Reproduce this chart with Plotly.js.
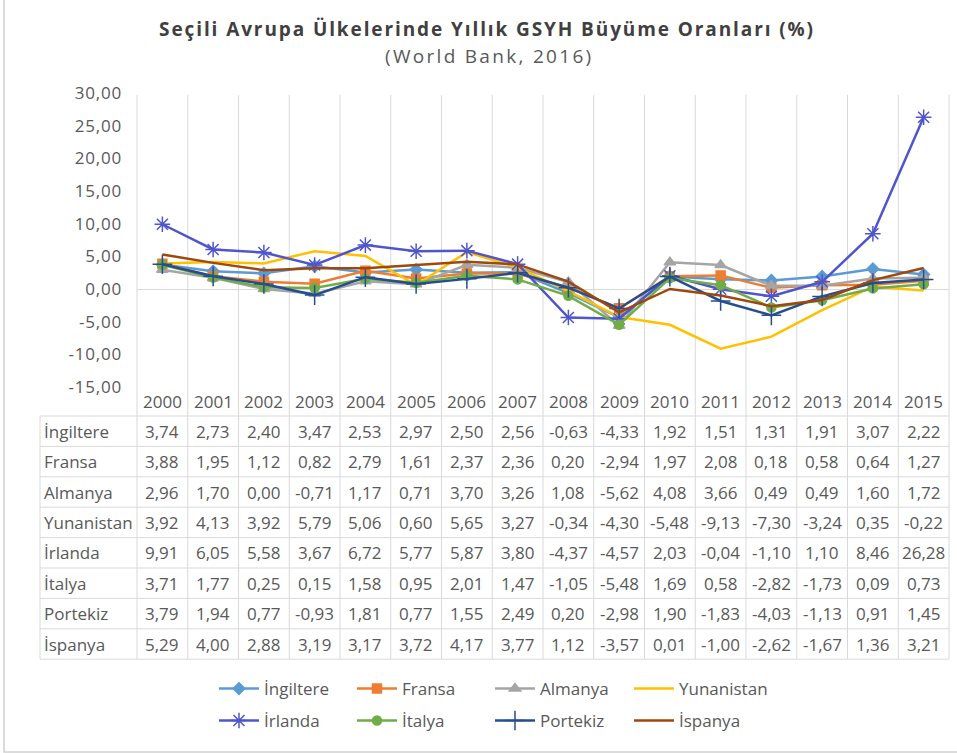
<!DOCTYPE html>
<html>
<head>
<meta charset="utf-8">
<script src="https://cdn.plot.ly/plotly-3.0.1.min.js"></script>
<style>html,body{margin:0;padding:0;background:#fff;}#chart{width:957px;height:753px;}</style>
</head>
<body>
<div id="chart"></div>
<script>
// ---- data ----
const years = ['2000','2001','2002','2003','2004','2005','2006','2007','2008','2009','2010','2011','2012','2013','2014','2015'];
const countries = ['İngiltere','Fransa','Almanya','Yunanistan','İrlanda','İtalya','Portekiz','İspanya'];
const ingiltere  = [3.74,2.73,2.40,3.47,2.53,2.97,2.50,2.56,-0.63,-4.33,1.92,1.51,1.31,1.91,3.07,2.22];
const fransa     = [3.88,1.95,1.12,0.82,2.79,1.61,2.37,2.36,0.20,-2.94,1.97,2.08,0.18,0.58,0.64,1.27];
const almanya    = [2.96,1.70,0.00,-0.71,1.17,0.71,3.70,3.26,1.08,-5.62,4.08,3.66,0.49,0.49,1.60,1.72];
const yunanistan = [3.92,4.13,3.92,5.79,5.06,0.60,5.65,3.27,-0.34,-4.30,-5.48,-9.13,-7.30,-3.24,0.35,-0.22];
const irlanda    = [9.91,6.05,5.58,3.67,6.72,5.77,5.87,3.80,-4.37,-4.57,2.03,-0.04,-1.10,1.10,8.46,26.28];
const italya     = [3.71,1.77,0.25,0.15,1.58,0.95,2.01,1.47,-1.05,-5.48,1.69,0.58,-2.82,-1.73,0.09,0.73];
const portekiz   = [3.79,1.94,0.77,-0.93,1.81,0.77,1.55,2.49,0.20,-2.98,1.90,-1.83,-4.03,-1.13,0.91,1.45];
const ispanya    = [5.29,4.00,2.88,3.19,3.17,3.72,4.17,3.77,1.12,-3.57,0.01,-1.00,-2.62,-1.67,1.36,3.21];
const series = [ingiltere,fransa,almanya,yunanistan,irlanda,italya,portekiz,ispanya];
const yTicks = [-15,-10,-5,0,5,10,15,20,25,30];

// ---- styles ----
const colors  = ['#5B9BD5','#ED7D31','#A5A5A5','#FFC000','#4F56CC','#70AD47','#264E8F','#9E480E'];
const symbols = ['diamond','square','triangle-up',null,'asterisk-open','circle','cross-thin-open',null];
const msizes  = [9,9,10,0,13,9,14,0];
const FONT = 'Open Sans, Arial, sans-serif';
const TXT = '#595959';
const GRID = '#D9D9D9';

// layout geometry (pixels)
const W=957, H=753, L=137, R=949, T=93, B=387;
const colW = (R-L)/16;
const px2x = px => (px-L)/(R-L);
const py2y = py => (B-py)/(B-T);
const colX = i => px2x(L + (i+0.5)*colW);
const fmt = v => v.toFixed(2).replace('.', ',');

const legendText = [[265,689],[403,689],[541,689],[680,689],[265,721],[403,721],[541,721],[680,721]];

const traces = countries.map((c,i)=>{
  const t = {
    type:'scatter', x:years, y:series[i], name:c,
    mode: symbols[i] ? 'lines+markers' : 'lines',
    line:{color:colors[i], width:2.5},
    legend: i===0 ? 'legend' : 'legend'+(i+1),
    hoverinfo:'skip'
  };
  if (symbols[i]) t.marker = {symbol:symbols[i], size:msizes[i], color:colors[i], line:{color:colors[i], width:1.5}};
  return t;
});

const shapes = [];
const gl = {color:GRID, width:1};
// vertical grid / table column lines
for (let i=0;i<=years.length;i++){
  const xx = px2x(L + i*colW);
  shapes.push({type:'line', xref:'paper', yref:'paper', x0:xx, x1:xx, y0:py2y(95), y1:py2y(659), line:gl, layer:'below'});
}
// table horizontal lines
const rowH = 30.4, tableTop = 416;
for (let k=0;k<=countries.length;k++){
  const yy = py2y(tableTop + k*rowH);
  shapes.push({type:'line', xref:'paper', yref:'paper', x0:px2x(40), x1:1, y0:yy, y1:yy, line:gl});
}
// table left border
shapes.push({type:'line', xref:'paper', yref:'paper', x0:px2x(40), x1:px2x(40), y0:py2y(tableTop), y1:py2y(tableTop+countries.length*rowH), line:gl});
// outer chart frame
shapes.push({type:'rect', xref:'paper', yref:'paper', x0:px2x(4), x1:px2x(970), y0:py2y(752), y1:py2y(-20), line:{color:'#D0D0D0', width:1.5}, layer:'below'});

const annotations = [];
const tf = {family:FONT,size:17,color:TXT};
// header years
years.forEach((y,i)=>{
  annotations.push({xref:'paper', yref:'paper', x:colX(i), y:py2y(401), text:y, showarrow:false, font:tf, xanchor:'center', yanchor:'middle'});
});
// table rows
countries.forEach((c,k)=>{
  const yc = py2y(tableTop + k*rowH + rowH/2);
  annotations.push({xref:'paper', yref:'paper', x:px2x(42), y:yc, text:c, showarrow:false, font:tf, xanchor:'left', yanchor:'middle'});
  series[k].forEach((v,i)=>{
    annotations.push({xref:'paper', yref:'paper', x:colX(i), y:yc, text:fmt(v), showarrow:false, font:tf, xanchor:'center', yanchor:'middle'});
  });
});
// subtitle
annotations.push({xref:'paper', yref:'paper', x:px2x(489), y:py2y(56), text:'<span style="letter-spacing:2.3px">(World Bank, 2016)</span>', showarrow:false, font:{family:FONT,size:19,color:TXT}, xanchor:'center', yanchor:'middle'});

const layout = {
  width:W, height:H,
  margin:{l:L, r:W-R, t:T, b:H-B, pad:0},
  paper_bgcolor:'#fff', plot_bgcolor:'#fff',
  separators:', ',
  title:{text:'<span style="letter-spacing:1.9px"><b>Seçili Avrupa Ülkelerinde Yıllık GSYH Büyüme Oranları (%)</b></span>', x:487/W, xanchor:'center', y:(H-29)/H, yanchor:'middle', yref:'container', font:{family:FONT, size:19, color:'#404040'}},
  xaxis:{type:'category', range:[-0.5,15.5], showticklabels:false, showgrid:false, zeroline:false, showline:false, ticks:''},
  yaxis:{range:[-15,30], tickvals:yTicks, ticktext:yTicks.map(v=>'<span style="letter-spacing:0.8px">'+fmt(v)+'</span>'), showgrid:false, zeroline:true, zerolinecolor:GRID, zerolinewidth:1, showline:false, ticks:'', ticklabelstandoff:14, tickfont:{family:FONT,size:17,color:TXT}},
  shapes, annotations,
  showlegend:true
};
countries.forEach((c,i)=>{
  const key = i===0 ? 'legend' : 'legend'+(i+1);
  layout[key] = {x:px2x(legendText[i][0]-51), y:py2y(legendText[i][1]), xref:'paper', yref:'paper', xanchor:'left', yanchor:'middle', orientation:'h', bgcolor:'rgba(0,0,0,0)', borderwidth:0, font:{family:FONT,size:17,color:TXT}, itemwidth:40};
});

Plotly.newPlot('chart', traces, layout, {staticPlot:true, displayModeBar:false});
</script>
</body>
</html>
